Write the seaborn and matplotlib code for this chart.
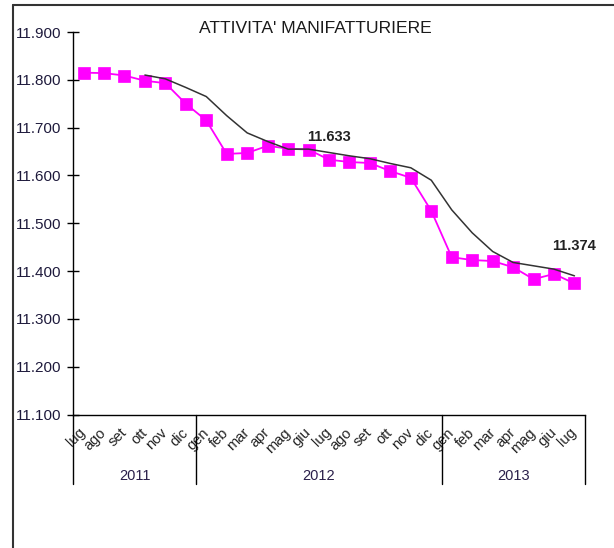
import numpy as np
import pandas as pd
import matplotlib
matplotlib.use("Agg")
import matplotlib.pyplot as plt
from matplotlib.lines import Line2D
import seaborn as sns

# ---- data ----
months = ['lug', 'ago', 'set', 'ott', 'nov', 'dic',
          'gen', 'feb', 'mar', 'apr', 'mag', 'giu', 'lug', 'ago', 'set', 'ott', 'nov', 'dic',
          'gen', 'feb', 'mar', 'apr', 'mag', 'giu', 'lug']
years = ['2011', '2012', '2013']
year_lengths = [6, 12, 7]
values = [11815, 11814, 11809, 11798, 11793, 11750,
          11715, 11645, 11647, 11662, 11656, 11654, 11633, 11628, 11626, 11609, 11595, 11526,
          11429, 11423, 11421, 11408, 11383, 11394, 11374]
trend = [np.nan, np.nan, np.nan, 11810, 11802, 11784,
         11765, 11725, 11689, 11671, 11655, 11655, 11648, 11641, 11635, 11625, 11616, 11590,
         11528, 11480, 11441, 11418, 11411, 11404, 11390]
yticks = [11100, 11200, 11300, 11400, 11500, 11600, 11700, 11800, 11900]
annot_idx = [12, 24]
annot_text = ['11.633', '11.374']
annot_offset = [16, 27]
title = "ATTIVITA' MANIFATTURIERE"

df = pd.DataFrame({'idx': np.arange(len(months)), 'value': values, 'trend': trend})

sns.set_style('white')
plt.rcParams['font.family'] = ['Liberation Sans', 'DejaVu Sans']

W, H = 614, 548
fig = plt.figure(figsize=(W / 100, H / 100), dpi=100)
x0, x1, ytop, ybot = 73.3, 584.7, 32.0, 414.5
ax = fig.add_axes([x0 / W, 1 - ybot / H, (x1 - x0) / W, (ybot - ytop) / H])

sns.lineplot(data=df, x='idx', y='value', ax=ax, color='#FF00FF', linewidth=1.3,
             marker='s', markersize=8, markeredgecolor='#FF00FF', markeredgewidth=0.5)
sns.lineplot(data=df.dropna(), x='idx', y='trend', ax=ax, color='#333333', linewidth=1.1)

ax.set_xlim(-0.5, len(months) - 0.5)
ax.set_ylim(yticks[0], yticks[-1])
ax.set_xlabel('')
ax.set_ylabel('')

tick_color = '#1e1a3c'
ax.set_yticks(yticks)
ax.set_yticklabels([f"{v:,}".replace(',', '.') for v in yticks], fontsize=11, color=tick_color)
ax.tick_params(axis='y', direction='inout', length=8, width=1, color='black', pad=4.6, left=True)

ax.set_xticks(df['idx'])
ax.set_xticklabels(months, rotation=45, ha='right', va='center', rotation_mode='anchor',
                   fontsize=10.5, color='#222222')
ax.tick_params(axis='x', length=0, pad=11.5)

for s in ['top', 'right']:
    ax.spines[s].set_visible(False)
for s in ['left', 'bottom']:
    ax.spines[s].set_color('black')
    ax.spines[s].set_linewidth(1.0)

# year group separators and labels
ext = -(484 - ybot) / (ybot - ytop)
trans = ax.get_xaxis_transform()
bounds = np.concatenate([[0], np.cumsum(year_lengths)]) - 0.5
for b in bounds:
    ax.plot([b, b], [0, ext], transform=trans, color='black', lw=1.0, clip_on=False)
for i, y in enumerate(years):
    ax.text((bounds[i] + bounds[i + 1]) / 2, -(476 - ybot) / (ybot - ytop), y,
            transform=trans, ha='center', va='center', fontsize=10.5, color='#2a1f4a')

# value annotations
for i, t, off in zip(annot_idx, annot_text, annot_offset):
    ax.annotate(t, (df['idx'][i], values[i]), xytext=(0, off), textcoords='offset points',
                ha='center', va='center', fontsize=10.5, fontweight='bold', color='#222222')

fig.text(314.9 / W, 1 - 28.8 / H, title, ha='center', va='center', fontsize=12.6, color='#1a1a1a')

# outer frame (top and left edges visible)
fl, ft = 12.7 / W, 1 - 4.7 / H
fig.add_artist(Line2D([fl, 1.01], [ft, ft], transform=fig.transFigure, color='#333333', lw=1.5))
fig.add_artist(Line2D([fl, fl], [ft, -0.01], transform=fig.transFigure, color='#333333', lw=1.5))

fig.savefig('out.png', dpi=100)
